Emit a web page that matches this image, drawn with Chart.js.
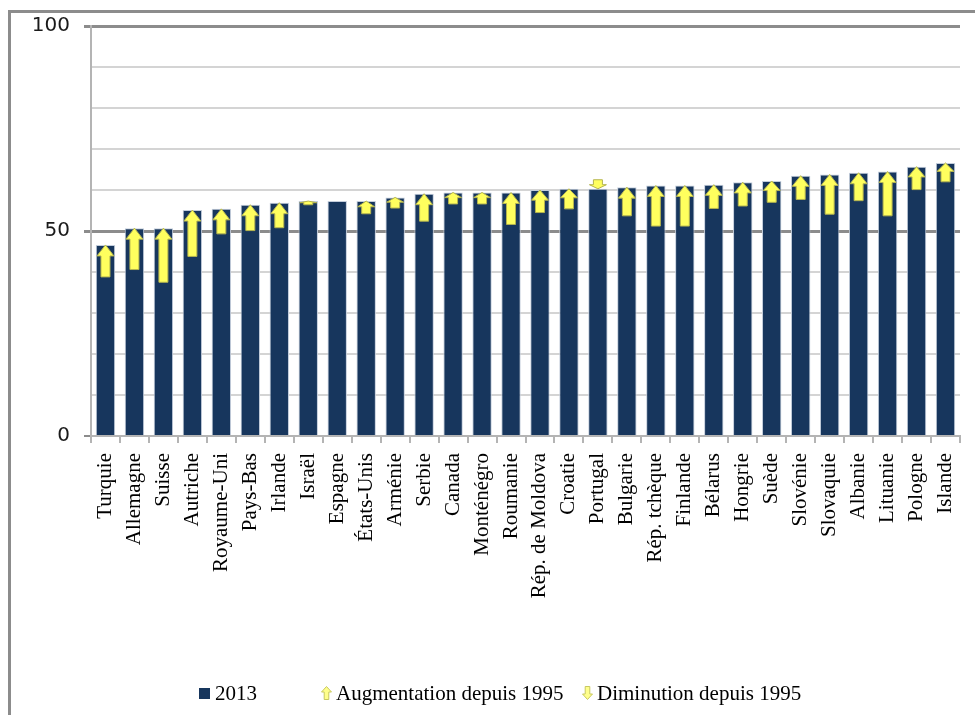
<!DOCTYPE html>
<html lang="fr">
<head>
<meta charset="utf-8">
<script src="https://cdn.jsdelivr.net/npm/chart.js@4.4.1/dist/chart.umd.min.js"></script>
<style>
  html, body { margin: 0; padding: 0; background: #fff; }
  #wrap { position: relative; width: 975px; height: 715px; overflow: hidden; }
  #frame { position: absolute; left: 8px; top: 10px; right: -10px; bottom: -10px;
           border-left: 3px solid #8c8c8c; border-top: 3px solid #8c8c8c; pointer-events: none; }
  #chart { position: absolute; left: 0; top: 0; }
  #legend { position: absolute; left: 0; top: 679px; width: 975px; height: 28px;
            font-family: 'Liberation Serif', 'Times New Roman', serif; font-size: 21px; color: #000; }
  .item { position: absolute; top: 0; height: 28px; display: flex; align-items: center; white-space: nowrap; }
  .sq { width: 11px; height: 11px; background: #17365d; margin-right: 5px; }
  .ico { margin-right: 4px; }
</style>
</head>
<body>
<div id="wrap">
  <div id="frame"></div>
  <canvas id="chart" width="975" height="715"></canvas>
  <div id="legend">
    <div class="item" style="left:199px"><span class="sq"></span><span>2013</span></div>
    <div class="item" style="left:321px">
      <svg class="ico" width="11" height="14" viewBox="0 0 11 14"><path d="M5.5 0.5 L10.5 6 L7.8 6 L7.8 13.5 L3.2 13.5 L3.2 6 L0.5 6 Z" fill="#ffff8c" stroke="#c8c860" stroke-width="1"/></svg>
      <span>Augmentation depuis 1995</span></div>
    <div class="item" style="left:582px">
      <svg class="ico" width="11" height="14" viewBox="0 0 11 14"><path d="M5.5 13.5 L10.5 8 L7.8 8 L7.8 0.5 L3.2 0.5 L3.2 8 L0.5 8 Z" fill="#ffff8c" stroke="#c8c860" stroke-width="1"/></svg>
      <span>Diminution depuis 1995</span></div>
  </div>
</div>
<script>
// Taux par pays en 2013, et valeur de 1995 (origine de chaque flèche)
const categories = [
  'Turquie', 'Allemagne', 'Suisse', 'Autriche', 'Royaume-Uni', 'Pays-Bas', 'Irlande',
  'Israël', 'Espagne', 'États-Unis', 'Arménie', 'Serbie', 'Canada', 'Monténégro',
  'Roumanie', 'Rép. de Moldova', 'Croatie', 'Portugal', 'Bulgarie', 'Rép. tchèque',
  'Finlande', 'Bélarus', 'Hongrie', 'Suède', 'Slovénie', 'Slovaquie', 'Albanie',
  'Lituanie', 'Pologne', 'Islande'
];
const values2013 = [
  46.6, 50.7, 50.7, 55.1, 55.4, 56.4, 56.9,
  57.3, 57.3, 57.3, 58.2, 59.1, 59.4, 59.4,
  59.4, 60.0, 60.3, 60.3, 60.7, 61.1,
  61.1, 61.3, 61.9, 62.2, 63.5, 63.8, 64.2,
  64.5, 65.7, 66.6
];
const values1995 = [
  38.8, 40.6, 37.5, 43.8, 49.3, 50.1, 50.8,
  56.4, null, 54.2, 55.6, 52.4, 56.6, 56.6,
  51.6, 54.5, 55.4, 62.5, 53.7, 51.2,
  51.2, 55.5, 56.1, 57.0, 57.7, 54.1, 57.4,
  53.7, 60.1, 62.0
];
const yTickLabels = [0, 50, 100];

const NAVY = '#17365d';

function drawArrow(ctx, x, yTail, yTip) {
  const dir = yTip < yTail ? -1 : 1;          // -1 : hausse, +1 : baisse
  const len = Math.abs(yTail - yTip);
  const hh = Math.min(11, len * 0.45);        // hauteur de la pointe
  const hw = 8.5, sw = 4.5;                   // demi-largeurs pointe / tige
  const yNeck = yTip - dir * hh;
  ctx.beginPath();
  ctx.moveTo(x, yTip);
  ctx.lineTo(x + hw, yNeck);
  ctx.lineTo(x + sw, yNeck);
  ctx.lineTo(x + sw, yTail);
  ctx.lineTo(x - sw, yTail);
  ctx.lineTo(x - sw, yNeck);
  ctx.lineTo(x - hw, yNeck);
  ctx.closePath();
  ctx.fillStyle = '#ffff5e';
  ctx.fill();
  ctx.lineWidth = 1;
  ctx.strokeStyle = '#b4b450';
  ctx.stroke();
}

const changeArrows = {
  id: 'changeArrows',
  afterDatasetsDraw(chart) {
    const meta = chart.getDatasetMeta(0);
    const yScale = chart.scales.y;
    const ctx = chart.ctx;
    ctx.save();
    meta.data.forEach((bar, i) => {
      const v0 = values1995[i];
      const v1 = values2013[i];
      if (v0 == null || v0 === v1) return;
      drawArrow(ctx, bar.x, yScale.getPixelForValue(v0), yScale.getPixelForValue(v1));
    });
    ctx.restore();
  }
};

const isMajor = v => yTickLabels.includes(v);

new Chart(document.getElementById('chart'), {
  type: 'bar',
  data: {
    labels: categories,
    datasets: [{
      label: '2013',
      data: values2013,
      backgroundColor: NAVY,
      borderColor: '#c3cddb',
      borderWidth: 1,
      barPercentage: 0.67,
      categoryPercentage: 1.0
    }]
  },
  options: {
    responsive: false,
    animation: false,
    devicePixelRatio: 1,
    layout: { padding: { top: 26, right: 15, bottom: 79, left: 0 } },
    plugins: { legend: { display: false }, tooltip: { enabled: false } },
    scales: {
      x: {
        afterFit(s) { s.height = 200; s.paddingLeft = 0; s.paddingRight = 0; },
        ticks: {
          autoSkip: false, minRotation: 90, maxRotation: 90, padding: 10,
          color: '#000', font: { family: '"Liberation Serif", serif', size: 21 }
        },
        grid: { drawOnChartArea: false, drawTicks: true, tickLength: 7,
                color: '#b4b4b4', lineWidth: 2, offset: true },
        border: { display: true, color: '#b4b4b4', width: 2 }
      },
      y: {
        min: 0, max: 100,
        afterFit(s) { s.width = 91; },
        ticks: {
          stepSize: 10, padding: 14, autoSkip: false,
          color: '#1a1a1a', font: { family: '"DejaVu Sans", sans-serif', size: 20 },
          callback: v => isMajor(v) ? String(v) : ''
        },
        grid: {
          drawTicks: true, tickLength: 7,
          color: c => (c.tick && (c.tick.value === 50 || c.tick.value === 100)) ? '#8c8c8c' : '#d4d4d4',
          lineWidth: c => (c.tick && (c.tick.value === 50 || c.tick.value === 100)) ? 3 : 2,
          tickColor: c => (c.tick && isMajor(c.tick.value)) ? '#8c8c8c' : 'rgba(0,0,0,0)'
        },
        border: { display: true, color: '#b4b4b4', width: 2 }
      }
    }
  },
  plugins: [changeArrows]
});
</script>
</body>
</html>
